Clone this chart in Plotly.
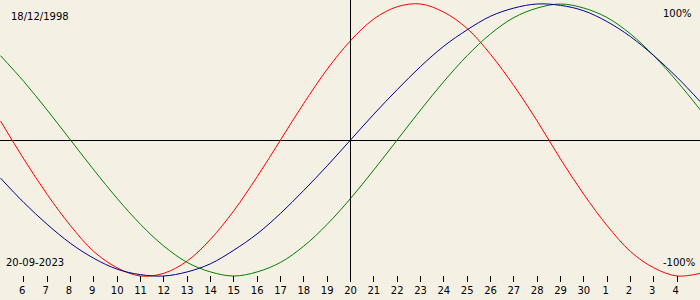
import plotly.graph_objects as go

# Days shown (day-of-month index; 31..35 are 1..5 of the next month)
days = list(range(5, 36))
tick_days = list(range(6, 35))
tick_labels = ["6 ", "7 ", "8 ", "9 ", "10", "11", "12", "13", "14", "15", "16", "17", "18",
               "19", "20", "21", "22", "23", "24", "25", "26", "27", "28", "29", "30",
               "1 ", "2 ", "3 ", "4 "]

# Biorhythm values in percent
physical = [14, -14, -40, -63, -82, -94, -100, -98, -89, -73, -52, -27, 0, 27, 52, 73,
            89, 98, 100, 94, 82, 63, 40, 14, -14, -40, -63, -82, -94, -100, -98]
emotional = [62, 43, 22, 0, -22, -43, -62, -78, -90, -97, -100, -97, -90, -78, -62, -43,
             -22, 0, 22, 43, 62, 78, 90, 97, 100, 97, 90, 78, 62, 43, 22]
intellectual = [-28, -46, -62, -76, -87, -95, -99, -100, -97, -91, -81, -69, -54, -37, -19, 0,
                19, 37, 54, 69, 81, 91, 97, 100, 99, 95, 87, 76, 62, 46, 28]

today = 20
birth_text = "18/12/1998"
date_text = "20-09-2023"

bg = "#F4F0E4"
font = dict(family="DejaVu Sans", size=10, color="black")

# shift by half a pixel so the 'today' line renders crisply
px_day = 30 / 700
x_range = [5 - 0.5 * px_day, 35 - 0.5 * px_day]

fig = go.Figure()
for vals, col in [(physical, "#FF0000"), (emotional, "#008000"), (intellectual, "#000090")]:
    fig.add_trace(go.Scatter(x=days, y=vals, mode="lines",
                             line=dict(color=col, width=1, shape="spline"),
                             hoverinfo="skip", showlegend=False))

fig.add_shape(type="line", xref="x", yref="paper", x0=today, x1=today, y0=0.06, y1=1,
              line=dict(color="black", width=1))

fig.add_annotation(text=birth_text, xref="paper", yref="paper", x=9/700, y=1-16/300,
                   xanchor="left", yanchor="middle", showarrow=False, font=font)
fig.add_annotation(text="100%", xref="paper", yref="paper", x=694/700, y=1-13/300,
                   xanchor="right", yanchor="middle", showarrow=False, font=font)
fig.add_annotation(text=date_text, xref="paper", yref="paper", x=4/700, y=1-262/300,
                   xanchor="left", yanchor="middle", showarrow=False, font=font)
fig.add_annotation(text="-100%", xref="paper", yref="paper", x=697/700, y=1-262/300,
                   xanchor="right", yanchor="middle", showarrow=False, font=font)

fig.update_layout(
    width=700, height=300,
    margin=dict(l=0, r=0, t=0, b=0),
    paper_bgcolor=bg, plot_bgcolor=bg,
    font=font,
    xaxis=dict(range=x_range, visible=False, showgrid=False, zeroline=False),
    xaxis2=dict(range=x_range, overlaying="x", anchor="free", position=25/300,
                side="bottom", showgrid=False, zeroline=False, showline=False,
                tickmode="array", tickvals=tick_days, ticktext=tick_labels,
                ticks="outside", ticklen=6, tickwidth=1, tickcolor="black",
                tickfont=font),
    yaxis=dict(range=[-160/1.36, 140/1.36], showgrid=False, showticklabels=False,
               zeroline=True, zerolinecolor="black", zerolinewidth=1, ticks=""),
)
# dummy trace to activate xaxis2
fig.add_trace(go.Scatter(x=[5, 35], y=[None, None], xaxis="x2", mode="lines",
                         hoverinfo="skip", showlegend=False))

fig.write_html("out.html")
